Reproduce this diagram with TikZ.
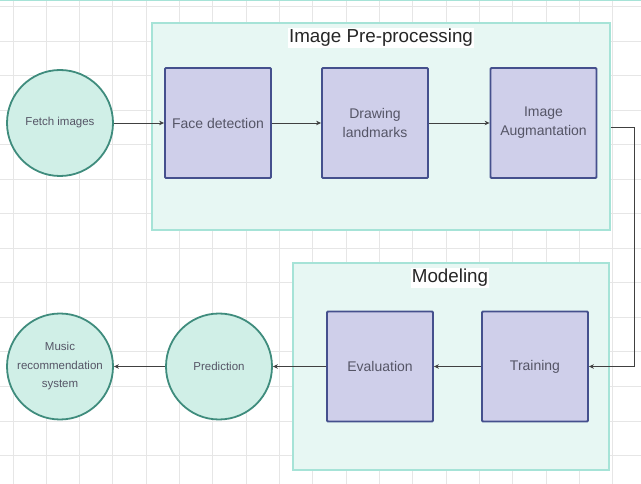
\documentclass[tikz,border=0pt]{standalone}
\usepackage{fontspec}
\setmainfont{Liberation Sans}
\usetikzlibrary{positioning,arrows.meta}
\definecolor{gridgray}{HTML}{E6E6E6}
\definecolor{groupfill}{HTML}{E7F7F3}
\definecolor{groupline}{HTML}{A6E3D7}
\definecolor{stepfill}{HTML}{CFCFEA}
\definecolor{stepline}{HTML}{45508D}
\definecolor{roundfill}{HTML}{D0EFE7}
\definecolor{roundline}{HTML}{3F8C7D}
\definecolor{labelgray}{HTML}{555566}

\begin{document}
\begin{tikzpicture}[x=1pt,y=-1pt]
  \tikzstyle{group}=[rectangle, draw=groupline, fill=groupfill, line width=1.3pt, minimum width=458pt, minimum height=207pt]
  \tikzstyle{grouptitle}=[fill=white, inner sep=1pt, text=black!85, font=\fontsize{18.8}{21}\selectfont]
  \tikzstyle{stepbox}=[rectangle, draw=stepline, fill=stepfill, line width=1.8pt, rounded corners=1pt, minimum width=106pt, minimum height=110pt, align=center, text=labelgray, font=\fontsize{14}{19}\selectfont]
  \tikzstyle{roundstep}=[circle, draw=roundline, fill=roundfill, line width=1.8pt, minimum size=106pt, inner sep=0pt, align=center, text=labelgray, font=\fontsize{11.5}{18.5}\selectfont]
  \tikzstyle{flow}=[draw=black!75, line width=0.9pt, -{Stealth[length=5pt,width=4.5pt]}]

  \useasboundingbox (0,0) rectangle (641,484);
  \fill[white] (0,0) rectangle (641,484);

  % background grid
  \foreach \gx in {0,...,18}
    \draw[gridgray, line width=1pt] (13+33.33*\gx,0) -- ++(0,484);
  \foreach \gy in {0,...,13}
    \draw[gridgray, line width=1pt] (0,7+34.5*\gy) -- ++(641,0);
  \draw[groupline, line width=1.5pt] (0,0.75) -- (641,0.75);

  % groups
  \node[group] (pre) at (381,126.5) {};
  \node[group, minimum width=316pt] (model) at (451,366.5) {};
  \node[grouptitle] (pretitle) at (381,38) {Image Pre-processing};
  \node[grouptitle] (modeltitle) at (450,278) {Modeling};

  % steps
  \node[roundstep] (fetch) at (60,123) {Fetch images};
  \node[stepbox] (face) at (218,123) {Face detection};
  \node[stepbox] (draw) at (375,123) {Drawing\\landmarks};
  \node[stepbox] (aug) at (543.5,123) {Image\\Augmantation};
  \node[stepbox] (train) at (535,366.5) {Training};
  \node[stepbox] (eval) at (380,366.5) {Evaluation};
  \node[roundstep] (pred) at (219,366.5) {Prediction};
  \node[roundstep] (music) at (60,366.5) {Music\\recommendation\\system};

  % connectors
  \draw[flow] (fetch) -- (face);
  \draw[flow] (face) -- (draw);
  \draw[flow] (draw) -- (aug);
  \draw[flow] ([yshift=-4pt]aug.east -| pre.east) -- ++(24,0) |- (train.east);
  \draw[flow] (train) -- (eval);
  \draw[flow] (eval) -- (pred);
  \draw[flow] (pred) -- (music);
\end{tikzpicture}
\end{document}
